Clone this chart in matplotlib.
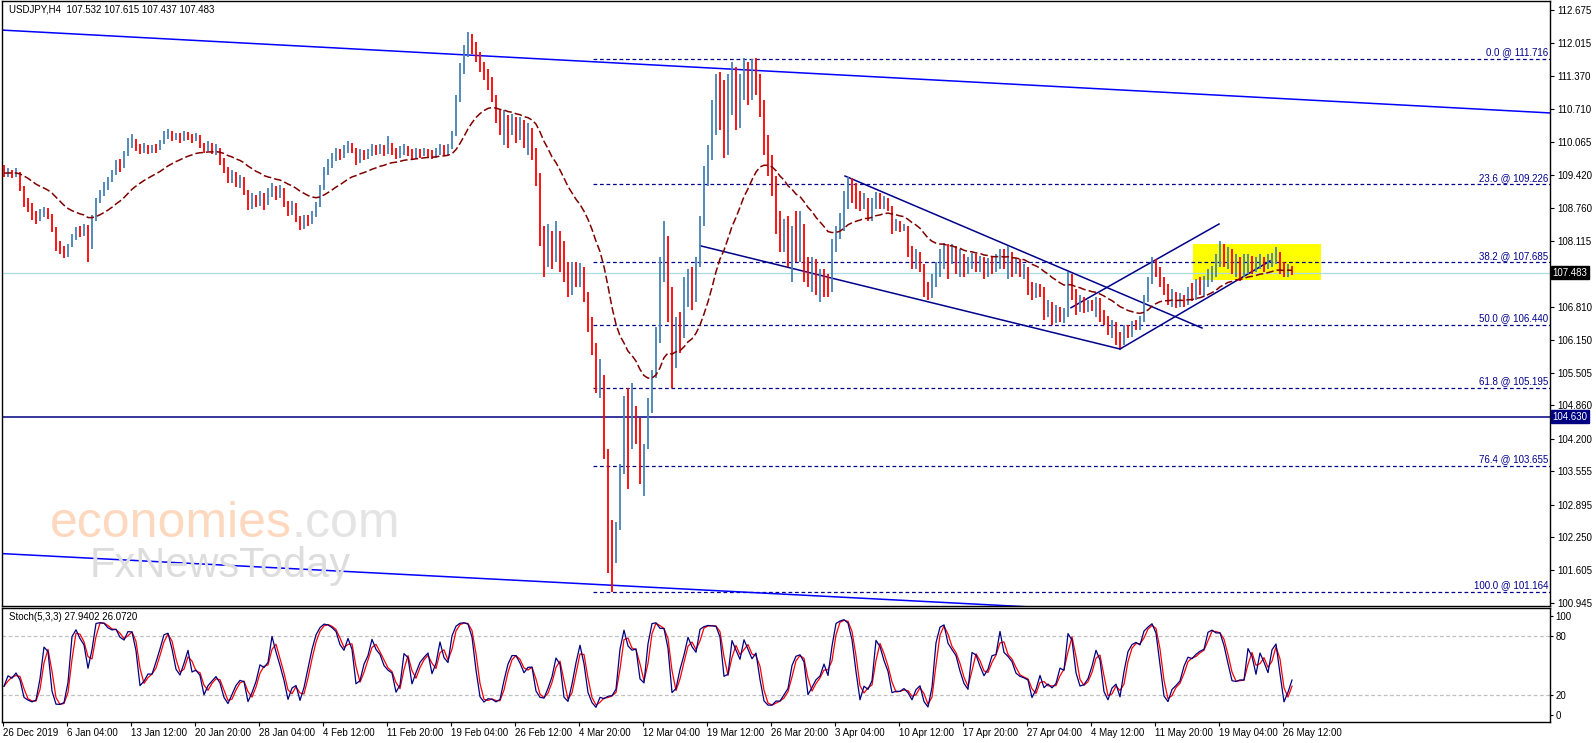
import matplotlib
matplotlib.use('Agg')
import matplotlib.pyplot as plt
import matplotlib.transforms as mtransforms
import numpy as np
import pandas as pd

# USDJPY H4, one entry per pair of H4 bars
first_open = 109.60
closes = [
    109.45, 109.50, 109.42, 109.48, 109.20, 108.90, 108.80, 108.60, 108.55, 108.68,
    108.72, 108.62, 108.35, 108.00, 107.95, 107.85, 108.00, 108.18, 108.30, 108.25,
    108.38, 107.95, 108.55, 108.85, 109.05, 109.20, 109.30, 109.45, 109.62, 109.58,
    109.80, 110.05, 110.10, 109.95, 109.90, 109.98, 109.88, 109.95, 109.92, 110.05,
    110.20, 110.25, 110.15, 110.20, 110.12, 110.22, 110.18, 110.12, 110.18, 110.02,
    109.92, 110.00, 109.88, 109.95, 109.70, 109.55, 109.30, 109.45, 109.25, 109.35,
    109.10, 108.80, 108.95, 108.85, 109.00, 108.82, 109.05, 109.15, 109.00, 109.12,
    108.85, 108.70, 108.82, 108.55, 108.40, 108.55, 108.48, 108.62, 108.80, 109.15,
    109.50, 109.62, 109.75, 109.85, 109.78, 109.92, 110.00, 109.92, 109.70, 109.85,
    109.78, 109.85, 109.95, 109.88, 109.95, 109.85, 110.00, 109.90, 109.80, 109.88,
    109.95, 109.85, 109.80, 109.88, 109.82, 109.90, 109.85, 109.80, 109.88, 109.95,
    109.85, 109.95, 110.20, 110.90, 111.50, 111.85, 112.10, 111.90, 111.80, 111.55,
    111.40, 111.25, 110.95, 110.60, 110.40, 110.55, 110.30, 110.50, 110.25, 110.40,
    110.10, 110.30, 109.95, 109.45, 108.40, 107.85, 108.20, 107.80, 108.30, 107.75,
    107.45, 107.20, 107.55, 107.40, 107.60, 107.10, 106.60, 105.95, 105.30, 105.45,
    104.00, 102.60, 101.80, 102.40, 103.50, 104.40, 104.00, 104.80, 104.40, 103.60,
    104.00, 104.80, 105.40, 106.20, 107.30, 108.20, 107.00, 105.60, 106.50, 106.20,
    106.90, 107.30, 106.90, 107.60, 108.40, 109.30, 109.80, 110.60, 111.20, 110.80,
    110.00, 110.90, 111.30, 110.70, 111.20, 111.50, 111.00, 111.45, 111.30, 110.80,
    110.00, 109.60, 109.20, 108.60, 108.10, 108.40, 107.80, 108.30, 107.90, 108.40,
    107.70, 107.40, 107.70, 107.20, 107.40, 107.30, 107.10, 108.05, 108.30, 108.60,
    109.05, 109.25, 108.95, 108.85, 108.80, 108.95, 108.55, 108.85, 109.00, 108.80,
    108.95, 108.80, 108.40, 108.45, 108.35, 108.40, 107.90, 107.70, 107.85, 107.60,
    107.10, 107.00, 107.35, 107.60, 107.85, 108.00, 107.70, 107.95, 107.60, 107.75,
    107.45, 107.65, 107.80, 107.60, 107.75, 107.45, 107.70, 107.55, 107.75, 107.90,
    107.65, 107.85, 107.55, 107.70, 107.50, 107.60, 107.20, 107.05, 107.20, 107.10,
    106.70, 106.85, 106.55, 106.75, 106.60, 106.70, 107.40, 107.10, 106.80, 106.95,
    106.75, 106.90, 106.80, 106.95, 106.65, 106.55, 106.35, 106.45, 106.15, 106.10,
    106.35, 106.25, 106.45, 106.40, 106.55, 106.95, 107.30, 107.70, 107.50, 107.35,
    107.15, 106.95, 107.05, 106.85, 107.00, 106.90, 107.10, 107.00, 107.25, 107.15,
    107.35, 107.45, 107.55, 107.70, 108.00, 107.75, 107.85, 107.55, 107.70, 107.45,
    107.60, 107.75, 107.55, 107.65, 107.75, 107.60, 107.70, 107.78, 107.85, 107.55,
    107.45, 107.60, 107.483,
]
highs = [
    109.62, 109.55, 109.52, 109.55, 109.48, 109.20, 108.95, 108.85, 108.70, 108.75,
    108.78, 108.76, 108.65, 108.38, 108.10, 108.00, 108.05, 108.25, 108.38, 108.40,
    108.45, 108.42, 108.62, 108.95, 109.12, 109.28, 109.38, 109.52, 109.70, 109.72,
    109.88, 110.15, 110.22, 110.12, 110.02, 110.05, 110.00, 110.00, 110.02, 110.10,
    110.28, 110.32, 110.28, 110.25, 110.24, 110.28, 110.26, 110.22, 110.24, 110.20,
    110.05, 110.08, 110.05, 110.02, 109.92, 109.75, 109.58, 109.52, 109.48, 109.42,
    109.38, 109.12, 109.05, 109.02, 109.10, 109.05, 109.15, 109.25, 109.20, 109.22,
    109.15, 108.90, 108.90, 108.85, 108.60, 108.62, 108.62, 108.70, 108.88, 109.22,
    109.58, 109.72, 109.85, 109.95, 109.92, 110.00, 110.08, 110.05, 109.95, 109.92,
    109.90, 109.92, 110.02, 110.00, 110.02, 110.00, 110.18, 110.05, 109.95, 109.98,
    110.02, 109.98, 109.92, 109.95, 109.92, 109.95, 109.92, 109.90, 109.95, 110.02,
    110.00, 110.02, 110.28, 111.00, 111.62, 111.98, 112.24, 112.20, 112.05, 111.85,
    111.65, 111.50, 111.35, 111.00, 110.70, 110.70, 110.60, 110.62, 110.55, 110.55,
    110.50, 110.45, 110.35, 109.95, 109.40, 108.40, 108.45, 108.30, 108.50, 108.30,
    108.10, 107.70, 107.70, 107.70, 107.68, 107.45, 107.05, 106.50, 106.10, 105.78,
    105.40, 103.10, 102.60, 102.55, 103.70, 105.05, 105.20, 105.30, 104.85, 104.60,
    104.10, 105.00, 105.55, 106.40, 107.80, 108.50, 108.20, 107.20, 106.60, 106.70,
    107.40, 107.55, 107.60, 107.80, 108.60, 109.60, 110.00, 110.90, 111.40, 111.45,
    111.30, 111.40, 111.65, 111.55, 111.40, 111.72, 111.65, 111.70, 111.72, 111.40,
    110.90, 110.20, 109.80, 109.40, 108.70, 108.55, 108.60, 108.40, 108.70, 108.70,
    108.45, 107.80, 107.80, 107.75, 107.55, 107.55, 107.45, 108.15, 108.40, 108.66,
    109.10, 109.38, 109.35, 109.25, 109.10, 109.05, 108.90, 108.95, 109.08, 109.05,
    109.00, 108.95, 108.80, 108.55, 108.50, 108.45, 108.35, 108.00, 107.95, 107.90,
    107.65, 107.30, 107.45, 107.70, 107.95, 108.07, 108.05, 108.05, 108.00, 107.95,
    107.85, 107.80, 107.88, 107.85, 107.82, 107.80, 107.78, 107.80, 107.85, 107.95,
    107.95, 108.00, 107.90, 107.78, 107.75, 107.65, 107.60, 107.30, 107.28, 107.25,
    107.20, 106.95, 106.90, 106.85, 106.80, 106.78, 107.50, 107.45, 107.15, 107.05,
    107.00, 106.95, 106.95, 107.00, 106.98, 106.75, 106.62, 106.55, 106.50, 106.30,
    106.45, 106.45, 106.52, 106.55, 106.62, 107.05, 107.40, 107.79, 107.75, 107.60,
    107.40, 107.25, 107.15, 107.10, 107.08, 107.05, 107.20, 107.28, 107.35, 107.40,
    107.42, 107.55, 107.62, 107.85, 108.10, 108.05, 107.98, 107.95, 107.85, 107.80,
    107.85, 107.85, 107.82, 107.80, 107.85, 107.80, 107.85, 107.88, 107.98, 107.90,
    107.70, 107.65, 107.615,
]
lows = [
    109.38, 109.38, 109.35, 109.38, 109.10, 108.78, 108.68, 108.52, 108.45, 108.50,
    108.58, 108.55, 108.28, 107.92, 107.85, 107.77, 107.80, 107.98, 108.12, 108.18,
    108.20, 107.70, 107.95, 108.50, 108.85, 109.00, 109.12, 109.28, 109.42, 109.48,
    109.55, 109.78, 109.95, 109.88, 109.82, 109.85, 109.82, 109.85, 109.85, 109.90,
    110.02, 110.12, 110.08, 110.10, 110.05, 110.08, 110.10, 110.05, 110.08, 109.95,
    109.85, 109.88, 109.82, 109.80, 109.62, 109.45, 109.25, 109.25, 109.18, 109.15,
    109.02, 108.72, 108.75, 108.78, 108.80, 108.72, 108.85, 108.98, 108.92, 108.95,
    108.78, 108.60, 108.62, 108.48, 108.32, 108.35, 108.40, 108.45, 108.58, 108.78,
    109.12, 109.42, 109.55, 109.68, 109.70, 109.75, 109.85, 109.85, 109.62, 109.65,
    109.70, 109.72, 109.78, 109.80, 109.82, 109.78, 109.82, 109.80, 109.72, 109.75,
    109.80, 109.78, 109.72, 109.75, 109.75, 109.78, 109.75, 109.72, 109.75, 109.80,
    109.78, 109.80, 109.92, 110.18, 110.85, 111.40, 111.75, 111.80, 111.65, 111.45,
    111.30, 111.10, 110.85, 110.45, 110.20, 110.00, 109.95, 110.20, 110.05, 110.10,
    109.95, 109.80, 109.70, 109.20, 108.00, 107.40, 107.60, 107.55, 107.70, 107.50,
    107.30, 107.00, 107.05, 107.20, 107.20, 106.90, 106.30, 105.85, 105.10, 105.00,
    103.80, 101.55, 101.17, 101.75, 102.40, 103.60, 103.20, 104.00, 104.10, 103.30,
    103.07, 104.00, 104.70, 105.40, 106.10, 107.30, 106.50, 105.20, 105.60, 105.90,
    106.30, 106.80, 106.75, 106.90, 107.60, 108.40, 109.20, 109.70, 110.20, 110.30,
    109.75, 109.80, 110.60, 110.30, 110.35, 110.90, 110.80, 110.90, 111.00, 110.55,
    109.80, 109.40, 109.00, 108.25, 107.90, 107.90, 107.60, 107.30, 107.70, 107.70,
    107.30, 107.20, 107.10, 107.05, 106.90, 107.00, 107.00, 107.10, 107.90, 108.15,
    108.30, 108.75, 108.85, 108.75, 108.70, 108.75, 108.50, 108.50, 108.75, 108.75,
    108.75, 108.70, 108.25, 108.30, 108.28, 108.30, 107.80, 107.55, 107.55, 107.50,
    107.00, 106.94, 106.98, 107.20, 107.40, 107.55, 107.35, 107.65, 107.45, 107.40,
    107.40, 107.45, 107.55, 107.50, 107.50, 107.35, 107.40, 107.45, 107.50, 107.55,
    107.55, 107.35, 107.40, 107.45, 107.40, 107.35, 107.05, 106.95, 106.98, 107.00,
    106.55, 106.60, 106.45, 106.48, 106.50, 106.48, 106.60, 106.95, 106.65, 106.70,
    106.68, 106.70, 106.72, 106.60, 106.50, 106.45, 106.25, 106.20, 106.05, 105.99,
    106.05, 106.20, 106.22, 106.35, 106.35, 106.50, 106.90, 107.25, 107.40, 107.20,
    107.05, 106.85, 106.80, 106.78, 106.80, 106.80, 106.85, 106.92, 106.95, 107.05,
    107.00, 107.20, 107.30, 107.40, 107.60, 107.60, 107.55, 107.45, 107.40, 107.32,
    107.40, 107.45, 107.45, 107.50, 107.55, 107.50, 107.55, 107.60, 107.65, 107.45,
    107.40, 107.40, 107.437,
]

price_ticks = [112.675, 112.015, 111.370, 110.710, 110.065, 109.420, 108.760, 108.115,
               106.810, 106.150, 105.505, 104.860, 104.200, 103.555, 102.895, 102.250,
               101.605, 100.945]
date_labels = ['26 Dec 2019', '6 Jan 04:00', '13 Jan 12:00', '20 Jan 20:00', '28 Jan 04:00',
               '4 Feb 12:00', '11 Feb 20:00', '19 Feb 04:00', '26 Feb 12:00', '4 Mar 20:00',
               '12 Mar 04:00', '19 Mar 12:00', '26 Mar 20:00', '3 Apr 04:00', '10 Apr 12:00',
               '17 Apr 20:00', '27 Apr 04:00', '4 May 12:00', '11 May 20:00', '19 May 04:00',
               '26 May 12:00']
bars_per_label = 32

fib_levels = [0.0, 23.6, 38.2, 50.0, 61.8, 76.4, 100.0]
fib_prices = [111.716, 109.226, 107.685, 106.440, 105.195, 103.655, 101.164]
fib_start_bar = 295
last_price = 107.483
support_price = 104.630

# trend lines as (bar, price) anchors
chan_top = [(-1.5, 112.28), (773.5, 110.64)]
chan_bottom = [(-1.5, 101.93), (773.5, 100.34)]
wedge_top = [(421, 109.393), (599.5, 106.388)]
wedge_bottom = [(348.5, 108.015), (558.5, 105.973)]
rise_top = [(534, 106.789), (608, 108.444)]
rise_bottom = [(558.5, 105.973), (633.5, 107.713)]
box_bars = (595, 659)
box_prices = (107.337, 108.049)

W, H = 1596, 743
plt.rcParams['font.family'] = ['Liberation Sans', 'DejaVu Sans']
fig = plt.figure(figsize=(W / 100, H / 100), dpi=100)
fig.patch.set_facecolor('white')

def frac(l, t, r, b):
    return [l / W, 1 - b / H, (r - l) / W, (b - t) / H]

ax = fig.add_axes(frac(2, 1, 1550, 606))
axs = fig.add_axes(frac(2, 608, 1550, 722))

n = len(closes)
xs = np.arange(n) * 2 + 0.5
c = np.array(closes)
o = np.concatenate([[first_open], c[:-1]])
hi = np.maximum(np.array(highs), np.maximum(o, c))
lo = np.minimum(np.array(lows), np.minimum(o, c))
up = c >= o

XMIN, XMAX = -0.5, 773.5
ax.set_xlim(XMIN, XMAX)
ax.set_ylim(100.892, 112.853)

# yellow zone
ax.fill_between(box_bars, box_prices[0], box_prices[1], color='#FFFF00', lw=0, zorder=0.5)

# fibonacci levels
for lvl, p in zip(fib_levels, fib_prices):
    ax.plot([fib_start_bar, XMAX], [p, p], color='#00008B', lw=0.9, dashes=(3, 2.2), zorder=1)
    ax.text(XMAX - 0.7, p + 0.035, f'{lvl:.1f} @ {p:.3f}', ha='right', va='bottom',
            fontsize=7, color='#00008B', zorder=6)

ax.axhline(support_price, color='#000080', lw=1.1, zorder=1)
ax.axhline(last_price, color='#A8DDE6', lw=0.9, zorder=1.2)

for ln, col in [(chan_top, '#0000FF'), (chan_bottom, '#0000FF'),
                (wedge_top, '#00008B'), (wedge_bottom, '#00008B'),
                (rise_top, '#00008B'), (rise_bottom, '#00008B')]:
    (x0, y0), (x1, y1) = ln
    ax.plot([x0, x1], [y0, y1], color=col, lw=1.1, zorder=2)

# bars
ax.vlines(xs[up], lo[up], hi[up], color='#4682B4', lw=1.3, zorder=3)
ax.vlines(xs[~up], lo[~up], hi[~up], color='#FF0000', lw=1.3, zorder=3)

# moving average (50 H4 bars = 25 entries here)
ma = pd.Series(c).ewm(span=25, adjust=False).mean()
ax.plot(xs, ma, color='#800000', lw=1.1, dashes=(5, 2), zorder=4)

# watermark
t1 = fig.text(50 / W, 1 - 537 / H, 'economies', fontsize=36, color='#FDD8BE',
              va='baseline', ha='left', zorder=5)
ax.annotate('.com', xy=(1, 0), xycoords=t1, xytext=(0, 0), textcoords='offset points',
            fontsize=36, color='#E4E4E4', va='bottom', ha='left', zorder=5,
            annotation_clip=False)
fig.text(90 / W, 1 - 577 / H, 'FxNewsToday', fontsize=30, color='#DDDDDD',
         va='baseline', ha='left', zorder=5)

ax.text(7 / 1548, 1 - 9 / 605, 'USDJPY,H4  107.532 107.615 107.437 107.483',
        transform=ax.transAxes, fontsize=7, va='center', ha='left', zorder=7)

ax.set_xticks([])
ax.yaxis.tick_right()
ax.set_yticks(price_ticks)
ax.set_yticklabels([f'{v:.3f}' for v in price_ticks])
ax.tick_params(axis='y', length=3, width=0.8, pad=2, labelsize=7, direction='out')

blend = mtransforms.blended_transform_factory(ax.transAxes, ax.transData)
ax.text(1.0015, last_price, '107.483', transform=blend, fontsize=7, color='white',
        va='center', ha='left', zorder=8,
        bbox=dict(boxstyle='square,pad=0.15', fc='black', ec='black'))
ax.text(1.0015, support_price, '104.630', transform=blend, fontsize=7, color='white',
        va='center', ha='left', zorder=8,
        bbox=dict(boxstyle='square,pad=0.15', fc='#000080', ec='#000080'))

# stochastic
k_len, slow, d_len = 3, 2, 2
hs, ls, cs = pd.Series(hi), pd.Series(lo), pd.Series(c)
hh = hs.rolling(k_len, min_periods=1).max()
ll = ls.rolling(k_len, min_periods=1).min()
num = (cs - ll).rolling(slow, min_periods=1).sum()
den = (hh - ll).rolling(slow, min_periods=1).sum()
k_line = 100 * num / den.replace(0, np.nan)
d_line = k_line.rolling(d_len, min_periods=1).mean()

axs.set_xlim(XMIN, XMAX)
axs.set_ylim(-6.7, 107.7)
for lvl in (20, 80):
    axs.axhline(lvl, color='#C0C0C0', lw=0.9, dashes=(3, 2))
axs.plot(xs, d_line, color='#FF0000', lw=0.9)
axs.plot(xs, k_line, color='#000080', lw=0.9)
axs.text(7 / 1548, 0.92, 'Stoch(5,3,3) 27.9402 26.0720', transform=axs.transAxes,
         fontsize=7, va='center', ha='left')
axs.yaxis.tick_right()
axs.set_yticks([100, 80, 20, 0])
axs.set_yticklabels(['100', '80', '20', '0'])
axs.tick_params(axis='y', length=2, width=0.8, pad=2, labelsize=7)
axs.set_xticks(np.arange(len(date_labels)) * bars_per_label)
axs.set_xticklabels(date_labels, ha='left')
axs.tick_params(axis='x', length=3, width=0.8, pad=1.5, labelsize=7)

for a in (ax, axs):
    for s in a.spines.values():
        s.set_color('black')
        s.set_linewidth(1.0)

fig.savefig('out.png', dpi=100, facecolor='white')
